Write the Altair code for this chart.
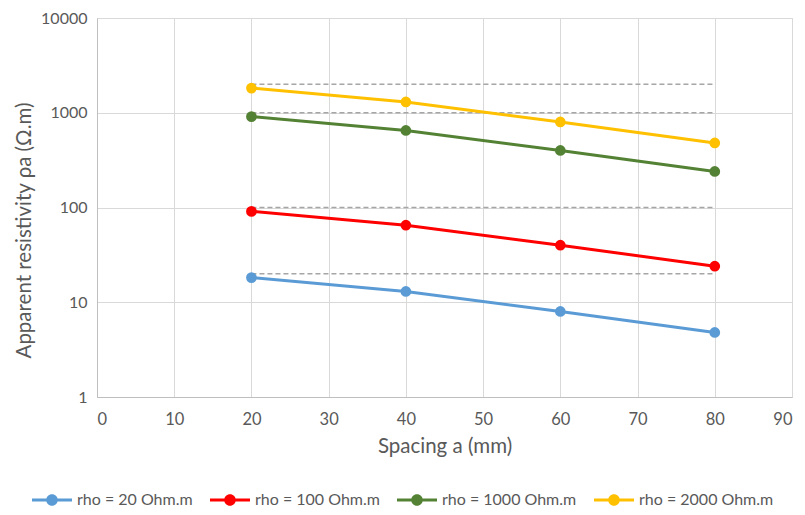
import altair as alt
import pandas as pd

spacing = [20, 40, 60, 80]
series_names = ["rho = 20 Ohm.m", "rho = 100 Ohm.m", "rho = 1000 Ohm.m", "rho = 2000 Ohm.m"]
series_colors = ["#5b9bd5", "#ff0000", "#548235", "#ffc000"]
rho20 = [18.2, 13.0, 8.0, 4.8]
rho100 = [91, 65, 40, 24]
rho1000 = [910, 650, 400, 240]
rho2000 = [1820, 1300, 800, 480]
true_rho = [20, 100, 1000, 2000]
x_ticks = [0, 10, 20, 30, 40, 50, 60, 70, 80, 90]
y_ticks = [1, 10, 100, 1000, 10000]

rows = []
for name, vals in zip(series_names, [rho20, rho100, rho1000, rho2000]):
    for a, v in zip(spacing, vals):
        rows.append({"series": name, "a": a, "rho": v})
df = pd.DataFrame(rows)
ref = pd.DataFrame({"rho": true_rho, "a0": [spacing[0]] * 4, "a1": [spacing[-1]] * 4})

FONT = "Lato"
TXT = "#595959"

xscale = alt.Scale(domain=[0, 90], nice=False, zero=False)
yscale = alt.Scale(type="log", domain=[1, 10000], nice=False)
cscale = alt.Scale(domain=series_names, range=series_colors)

xaxis = alt.Axis(values=x_ticks, title="Spacing a (mm)", grid=True, gridColor="#d9d9d9",
                 domain=True, domainColor="#bfbfbf", ticks=False, labelPadding=14,
                 labelFontSize=16.5, labelColor=TXT, titleFontSize=20.5, titleColor=TXT,
                 titleFontWeight="normal", titlePadding=9, labelFont=FONT, titleFont=FONT)
yaxis = alt.Axis(values=y_ticks, title="Apparent resistivity ρa (Ω.m)", format="d", grid=True,
                 gridColor="#d9d9d9", domain=True, domainColor="#bfbfbf", ticks=False,
                 labelPadding=10, labelFontSize=16, labelColor=TXT, titleFontSize=20.5,
                 titleColor=TXT, titleFontWeight="normal", titlePadding=6, titleY=212,
                 labelFont=FONT, titleFont=FONT)

sym = "M-1,-0.075H1V0.075H-1Z M0.29,0A0.29,0.29,0,1,1,-0.29,0A0.29,0.29,0,1,1,0.29,0Z"

legend = alt.Legend(
    title=None, orient="none", legendX=-65, legendY=462, direction="horizontal",
    columns=4, symbolType=sym, symbolSize=1600, symbolStrokeWidth=0, labelOffset=5,
    columnPadding=17, labelFontSize=16, labelColor=TXT, labelFont=FONT, labelLimit=300,
    symbolOpacity=1)

refs = alt.Chart(ref).mark_rule(color="#a6a6a6", strokeDash=[5, 3], strokeWidth=1.5).encode(
    x=alt.X("a0:Q", scale=xscale, axis=xaxis),
    x2="a1:Q",
    y=alt.Y("rho:Q", scale=yscale, axis=yaxis),
)

lines = alt.Chart(df).mark_line(strokeWidth=3).encode(
    x=alt.X("a:Q", scale=xscale, axis=xaxis),
    y=alt.Y("rho:Q", scale=yscale, axis=yaxis),
    color=alt.Color("series:N", scale=cscale, legend=legend),
)

points = alt.Chart(df).mark_point(filled=True, size=115, opacity=1).encode(
    x=alt.X("a:Q", scale=xscale, axis=xaxis),
    y=alt.Y("rho:Q", scale=yscale, axis=yaxis),
    color=alt.Color("series:N", scale=cscale, legend=legend),
)

chart = alt.layer(refs, lines, points).properties(
    width=695, height=379,
    autosize=alt.AutoSizeParams(type="none"),
    padding={"left": 89, "top": 10, "right": 5, "bottom": 110},
).configure_view(stroke=None).configure(background="white")

chart.save("out.html", embed_options={"renderer": "svg", "actions": False})
